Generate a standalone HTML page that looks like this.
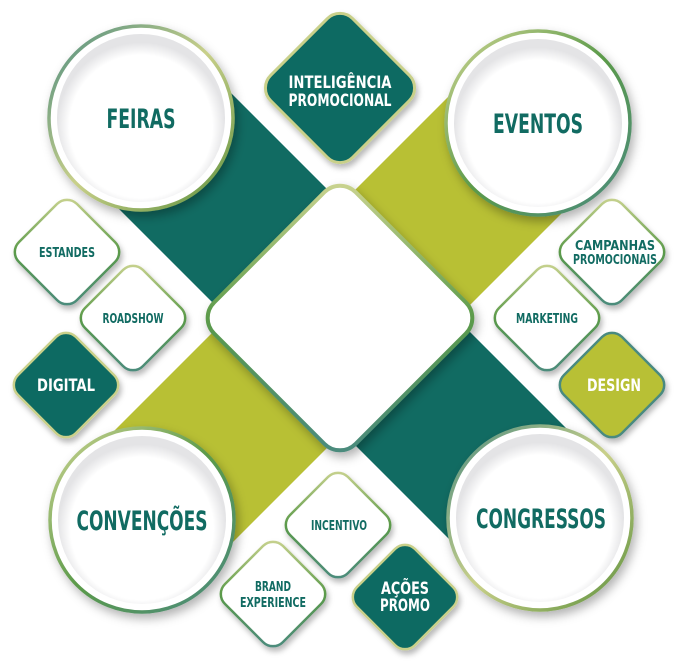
<!DOCTYPE html>
<html><head><meta charset="utf-8"><style>
html,body{margin:0;padding:0;background:#fff;}
svg{display:block;}
text{font-family:"Liberation Sans Narrow","DejaVu Sans Condensed","Liberation Sans",sans-serif;font-weight:bold;text-anchor:middle;}
</style></head><body>
<svg width="680" height="670" viewBox="0 0 680 670" xmlns="http://www.w3.org/2000/svg">
<defs>
<filter id="sh" x="-30%" y="-30%" width="160%" height="160%"><feDropShadow dx="3" dy="5" stdDeviation="5" flood-color="#000" flood-opacity="0.3"/></filter>
<filter id="sh2" x="-30%" y="-30%" width="160%" height="160%"><feDropShadow dx="2" dy="4" stdDeviation="3" flood-color="#000" flood-opacity="0.28"/></filter>
<linearGradient id="ring" x1="0" y1="0" x2="1" y2="1"><stop offset="0" stop-color="#4d8c80"/><stop offset="0.5" stop-color="#c9d08a"/><stop offset="1" stop-color="#5b8f3a"/></linearGradient>
<linearGradient id="ring2" x1="0" y1="0" x2="1" y2="1"><stop offset="0" stop-color="#cfd693"/><stop offset="0.5" stop-color="#5b9a4a"/><stop offset="1" stop-color="#4a8a80"/></linearGradient>
<radialGradient id="inner" cx="0.5" cy="0.55" r="0.5"><stop offset="0.85" stop-color="#fff"/><stop offset="1" stop-color="#e4e4e6"/></radialGradient>
</defs>

<polygon points="80,170 194,56 609,471 495,585" fill="#116b62"/>
<polygon points="481,64 596,179 198,577 83,462" fill="#b8c034"/>

<g filter="url(#sh)"><rect x="240" y="218" width="200" height="200" rx="22" transform="rotate(45 340 318)" fill="#fff" stroke="url(#ring2)" stroke-width="4"/></g>

<g filter="url(#sh)">
<circle cx="141" cy="118" r="92" fill="#fff" stroke="url(#ring)" stroke-width="3.5"/>
<circle cx="538" cy="123" r="92" fill="#fff" stroke="url(#ring2)" stroke-width="3.5"/>
<circle cx="142" cy="520" r="92" fill="#fff" stroke="url(#ring2)" stroke-width="3.5"/>
<circle cx="540" cy="518" r="92" fill="#fff" stroke="url(#ring)" stroke-width="3.5"/>
</g>
<circle cx="141" cy="118" r="84" fill="url(#inner)"/>
<circle cx="538" cy="123" r="84" fill="url(#inner)"/>
<circle cx="142" cy="520" r="84" fill="url(#inner)"/>
<circle cx="540" cy="518" r="84" fill="url(#inner)"/>
<text x="141" y="128" font-size="27" fill="#116b62" textLength="69" lengthAdjust="spacingAndGlyphs">FEIRAS</text>
<text x="538" y="133" font-size="27" fill="#116b62" textLength="90" lengthAdjust="spacingAndGlyphs">EVENTOS</text>
<text x="142" y="530" font-size="27" fill="#116b62" textLength="131" lengthAdjust="spacingAndGlyphs">CONVENÇÕES</text>
<text x="541" y="528" font-size="27" fill="#116b62" textLength="130" lengthAdjust="spacingAndGlyphs">CONGRESSOS</text>

<g filter="url(#sh2)">
<rect x="282" y="30" width="116" height="116" rx="18" transform="rotate(45 340 88)" fill="#116b62" stroke="#c9d08a" stroke-width="3"/>
<rect x="26" y="211" width="82" height="82" rx="14" transform="rotate(45 67 252)" fill="#fff" stroke="url(#ring2)" stroke-width="2.5"/>
<rect x="92" y="277" width="82" height="82" rx="14" transform="rotate(45 133 318)" fill="#fff" stroke="url(#ring2)" stroke-width="2.5"/>
<rect x="25" y="344" width="82" height="82" rx="14" transform="rotate(45 66 385)" fill="#116b62" stroke="#c9d08a" stroke-width="2.5"/>
<rect x="571" y="211" width="82" height="82" rx="14" transform="rotate(45 612 252)" fill="#fff" stroke="url(#ring2)" stroke-width="2.5"/>
<rect x="506" y="277" width="82" height="82" rx="14" transform="rotate(45 547 318)" fill="#fff" stroke="url(#ring2)" stroke-width="2.5"/>
<rect x="571" y="344" width="82" height="82" rx="14" transform="rotate(45 612 385)" fill="#b8c034" stroke="#4a8a80" stroke-width="2.5"/>
<rect x="297" y="484" width="82" height="82" rx="14" transform="rotate(45 338 525)" fill="#fff" stroke="url(#ring2)" stroke-width="2.5"/>
<rect x="232" y="553" width="82" height="82" rx="14" transform="rotate(45 273 594)" fill="#fff" stroke="url(#ring2)" stroke-width="2.5"/>
<rect x="364" y="556" width="82" height="82" rx="14" transform="rotate(45 405 597)" fill="#116b62" stroke="#c9d08a" stroke-width="2.5"/>
</g>
<text x="340" y="88" font-size="17" fill="#fff" textLength="103" lengthAdjust="spacingAndGlyphs">INTELIGÊNCIA</text>
<text x="340" y="106" font-size="17" fill="#fff" textLength="103" lengthAdjust="spacingAndGlyphs">PROMOCIONAL</text>
<text x="67" y="257" font-size="13" fill="#116b62" textLength="56" lengthAdjust="spacingAndGlyphs">ESTANDES</text>
<text x="133" y="323" font-size="13" fill="#116b62" textLength="61" lengthAdjust="spacingAndGlyphs">ROADSHOW</text>
<text x="66" y="391" font-size="17" fill="#fff" textLength="58" lengthAdjust="spacingAndGlyphs">DIGITAL</text>
<text x="615" y="250" font-size="13" fill="#116b62" textLength="80" lengthAdjust="spacingAndGlyphs">CAMPANHAS</text>
<text x="615" y="264" font-size="13" fill="#116b62" textLength="84" lengthAdjust="spacingAndGlyphs">PROMOCIONAIS</text>
<text x="547" y="323" font-size="13" fill="#116b62" textLength="62" lengthAdjust="spacingAndGlyphs">MARKETING</text>
<text x="614" y="391" font-size="17" fill="#fff" textLength="54" lengthAdjust="spacingAndGlyphs">DESIGN</text>
<text x="339" y="530" font-size="13" fill="#116b62" textLength="56" lengthAdjust="spacingAndGlyphs">INCENTIVO</text>
<text x="273" y="591" font-size="13" fill="#116b62" textLength="36" lengthAdjust="spacingAndGlyphs">BRAND</text>
<text x="273" y="607" font-size="13" fill="#116b62" textLength="66" lengthAdjust="spacingAndGlyphs">EXPERIENCE</text>
<text x="405" y="594" font-size="17" fill="#fff" textLength="48" lengthAdjust="spacingAndGlyphs">AÇÕES</text>
<text x="405" y="611" font-size="17" fill="#fff" textLength="50" lengthAdjust="spacingAndGlyphs">PROMO</text>
</svg>
</body></html>
